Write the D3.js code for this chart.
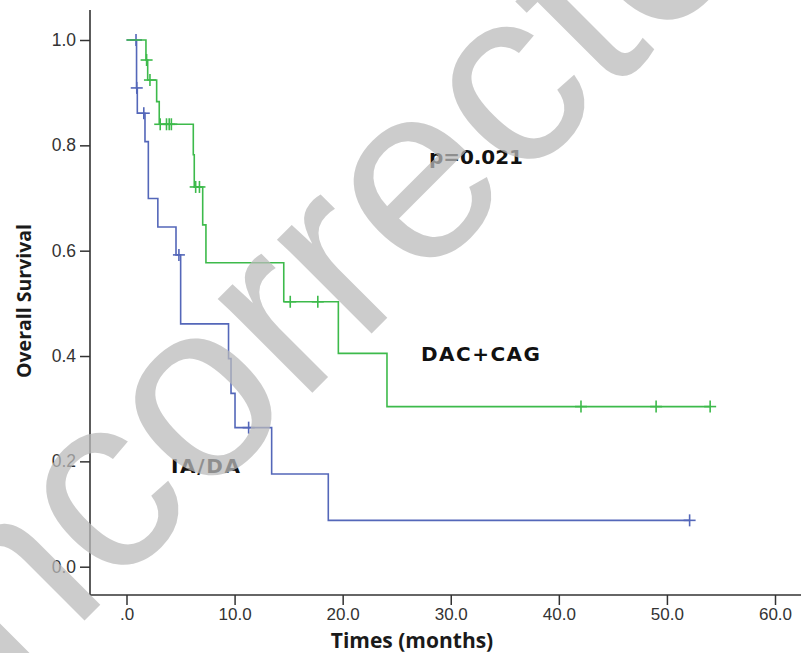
<!DOCTYPE html>
<html>
<head>
<meta charset="utf-8">
<script src="https://cdn.jsdelivr.net/npm/d3@7"></script>
<style>
  body { margin: 0; background: #fff; }
  svg { display: block; }
</style>
</head>
<body>
<div id="chart"></div>
<script>
// IA/DA arm: event times (months) and survival after each event
const iadaEventTimes = [0.93, 1.0, 1.71, 2.02, 2.9, 4.58, 5.01, 9.44, 9.67, 10.04, 13.43, 18.67];
const iadaSurvival   = [0.909, 0.861, 0.807, 0.699, 0.645, 0.592, 0.461, 0.395, 0.329, 0.264, 0.176, 0.088];
const iadaCensored   = [0.88, 0.95, 1.6, 4.85, 11.3, 52.1];

// DAC+CAG arm
const dacEventTimes = [1.8, 1.96, 2.79, 3.03, 6.18, 6.27, 7.05, 7.35, 14.55, 19.6, 24.1];
const dacSurvival   = [0.962, 0.924, 0.883, 0.840, 0.782, 0.721, 0.649, 0.577, 0.503, 0.405, 0.304];
const dacCensored   = [1.86, 2.17, 3.12, 3.7, 3.95, 4.15, 6.4, 6.75, 15.15, 17.7, 42.05, 49.0, 54.0];

const xTicks = [0, 10, 20, 30, 40, 50, 60];
const yTicks = [0, 0.2, 0.4, 0.6, 0.8, 1.0];

const seriesNames = ['IA/DA', 'DAC+CAG'];
const seriesColors = ['#5467b9', '#3dba4b'];
const pValueLabel = 'p=0.021';
const xTitle = 'Times (months)';
const yTitle = 'Overall Survival';
const watermark = 'Uncorrected';

const width = 801, height = 653;
const axisX = 90, axisY = 595, axisTop = 10;

const svg = d3.select('#chart')
    .append('svg')
    .attr('width', width)
    .attr('height', height);

svg.append('rect').attr('width', width).attr('height', height).attr('fill', '#fff');

const xScale = d3.scaleLinear().domain([0, 60]).range([126.5, 775]);
const yScale = d3.scaleLinear().domain([0, 1]).range([566.7, 40]);

const tickFont = 'Liberation Sans, Arial, sans-serif';
const boldFont = 'DejaVu Sans, Verdana, sans-serif';

// X axis
const gx = svg.append('g')
    .attr('transform', `translate(0, ${axisY})`)
    .call(d3.axisBottom(xScale)
        .tickValues(xTicks)
        .tickSize(10)
        .tickPadding(3)
        .tickFormat(d => d === 0 ? '.0' : d.toFixed(1)));
gx.select('.domain').remove();
gx.selectAll('line').attr('stroke', '#333').attr('stroke-width', 1.5);
gx.selectAll('text')
    .attr('font-family', tickFont)
    .attr('font-size', 17)
    .attr('fill', '#333');

// Y axis
const gy = svg.append('g')
    .attr('transform', `translate(${axisX}, 0)`)
    .call(d3.axisLeft(yScale)
        .tickValues(yTicks)
        .tickSize(10)
        .tickPadding(4)
        .tickFormat(d => d.toFixed(1)));
gy.select('.domain').remove();
gy.selectAll('line').attr('stroke', '#333').attr('stroke-width', 1.5);
gy.selectAll('text')
    .attr('font-family', tickFont)
    .attr('font-size', 17.5)
    .attr('fill', '#333');

// Frame lines
svg.append('line')
    .attr('x1', axisX).attr('x2', width)
    .attr('y1', axisY).attr('y2', axisY)
    .attr('stroke', '#333').attr('stroke-width', 1.6);
svg.append('line')
    .attr('x1', axisX).attr('x2', axisX)
    .attr('y1', axisTop).attr('y2', axisY)
    .attr('stroke', '#333').attr('stroke-width', 1.6);

// Kaplan-Meier step curves
function survivalAt(times, surv, t) {
    let s = 1;
    times.forEach((et, i) => { if (et <= t) s = surv[i]; });
    return s;
}

const stepLine = d3.line()
    .x(d => xScale(d[0]))
    .y(d => yScale(d[1]))
    .curve(d3.curveStepAfter);

const arms = [
    { times: iadaEventTimes, surv: iadaSurvival, cens: iadaCensored, color: seriesColors[0] },
    { times: dacEventTimes, surv: dacSurvival, cens: dacCensored, color: seriesColors[1] }
];

arms.forEach(arm => {
    const lastT = Math.max(d3.max(arm.cens), d3.max(arm.times));
    const pts = [[0, 1]]
        .concat(arm.times.map((t, i) => [t, arm.surv[i]]))
        .concat([[lastT, survivalAt(arm.times, arm.surv, lastT)]]);

    svg.append('path')
        .datum(pts)
        .attr('fill', 'none')
        .attr('stroke', arm.color)
        .attr('stroke-width', 1.6)
        .attr('d', stepLine);

    // censor marks
    const marks = svg.append('g')
        .attr('stroke', arm.color)
        .attr('stroke-width', 1.6);
    arm.cens.forEach(t => {
        const cx = xScale(t), cy = yScale(survivalAt(arm.times, arm.surv, t));
        marks.append('line').attr('x1', cx - 6).attr('x2', cx + 6).attr('y1', cy).attr('y2', cy);
        marks.append('line').attr('x1', cx).attr('x2', cx).attr('y1', cy - 6).attr('y2', cy + 6);
    });
});

// Annotations
function addLabel(txt, x, y, len) {
    svg.append('text')
        .attr('x', x)
        .attr('y', y)
        .attr('font-family', boldFont)
        .attr('font-weight', 'bold')
        .attr('font-size', 20)
        .attr('fill', '#111')
        .attr('textLength', len)
        .attr('lengthAdjust', 'spacing')
        .text(txt);
}
addLabel(pValueLabel, 429, 164, 94);
addLabel(seriesNames[1], 421, 361, 119);
addLabel(seriesNames[0], 171, 473, 69);

// Axis titles
svg.append('text')
    .attr('x', 412)
    .attr('y', 648)
    .attr('text-anchor', 'middle')
    .attr('font-family', 'Open Sans, sans-serif')
    .attr('font-weight', 'bold')
    .attr('font-size', 21)
    .attr('fill', '#1a1a1a')
    .text(xTitle);

svg.append('text')
    .attr('transform', `translate(31, 301) rotate(-90)`)
    .attr('text-anchor', 'middle')
    .attr('font-family', 'Open Sans, sans-serif')
    .attr('font-weight', 'bold')
    .attr('font-size', 19.5)
    .attr('fill', '#1a1a1a')
    .text(yTitle);

// Watermark overlay
svg.append('text')
    .attr('transform', 'translate(-116, 821) rotate(-45)')
    .attr('font-family', 'Liberation Sans, Arial, sans-serif')
    .attr('font-size', 252)
    .attr('fill', '#bababa')
    .attr('fill-opacity', 0.74)
    .text(watermark);
</script>
</body>
</html>
